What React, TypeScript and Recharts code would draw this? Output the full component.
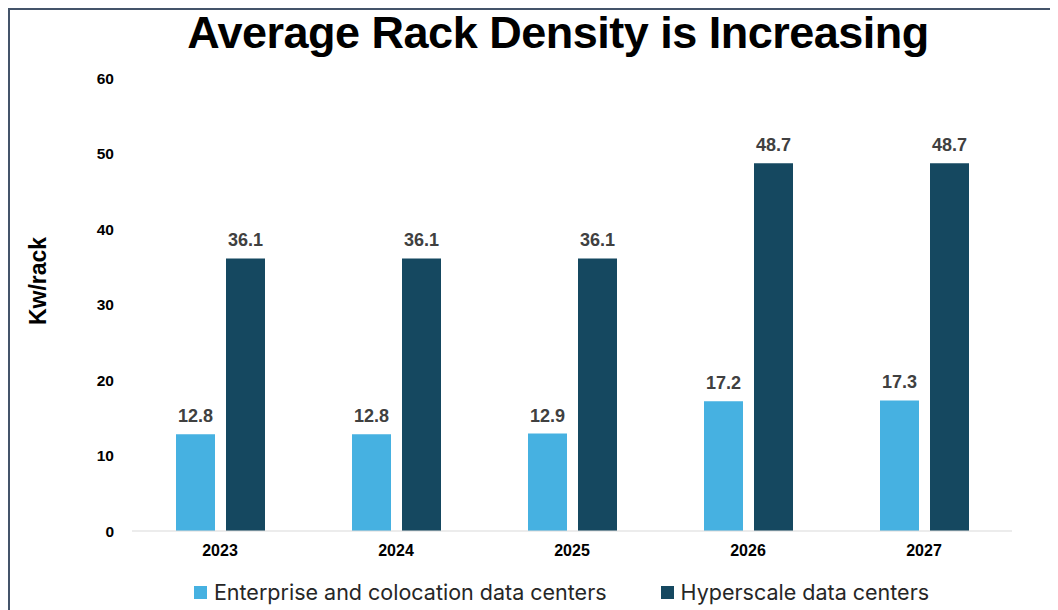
import React from "react";
import { BarChart, Bar, XAxis, YAxis, LabelList, Legend } from "recharts";

const years = ["2023", "2024", "2025", "2026", "2027"];
const enterprise = [12.8, 12.8, 12.9, 17.2, 17.3];
const hyperscale = [36.1, 36.1, 36.1, 48.7, 48.7];
const yTicks = [0, 10, 20, 30, 40, 50, 60];

const LIGHT = "#46B1E1";
const DARK = "#154860";
const FONT = "'Liberation Sans', Arial, sans-serif";

const data = years.map((year, i) => ({
  year,
  enterprise: enterprise[i],
  hyperscale: hyperscale[i],
}));

const legendItems = [
  { name: "Enterprise and colocation data centers", color: LIGHT },
  { name: "Hyperscale data centers", color: DARK },
];

const LegendContent = () => (
  <div
    style={{
      display: "flex",
      justifyContent: "center",
      gap: 54,
      paddingLeft: 101,
      fontFamily: "Inter, sans-serif",
      fontSize: 21.5,
      color: "#262626",
    }}
  >
    {legendItems.map((item) => (
      <div key={item.name} style={{ display: "flex", alignItems: "center" }}>
        <span
          style={{
            display: "inline-block",
            width: 13,
            height: 13,
            background: item.color,
            marginRight: 7,
          }}
        />
        {item.name}
      </div>
    ))}
  </div>
);

export default function App() {
  return (
    <div
      style={{
        position: "relative",
        width: 1050,
        height: 602,
        borderLeft: "2px solid #44546A",
        borderTop: "2px solid #44546A",
        boxSizing: "border-box",
        overflow: "hidden",
        background: "#fff",
      }}
    >
      <div
        style={{
          position: "absolute",
          top: -2,
          left: 0,
          width: 1096,
          textAlign: "center",
          fontFamily: FONT,
          fontWeight: 700,
          fontSize: 45,
          lineHeight: "50px",
          color: "#000",
          letterSpacing: -0.5,
        }}
      >
        Average Rack Density is Increasing
      </div>
      <div
        style={{
          position: "absolute",
          left: 28,
          top: 271,
          transform: "translate(-50%, -50%) rotate(-90deg)",
          fontFamily: FONT,
          fontWeight: 700,
          fontSize: 23,
          whiteSpace: "nowrap",
          color: "#000",
        }}
      >
        Kw/rack
      </div>
      <BarChart
        width={1048}
        height={600}
        data={data}
        margin={{ top: 68, right: 46, bottom: 0, left: 0 }}
        barSize={39}
        barGap={11}
      >
        <XAxis
          dataKey="year"
          axisLine={{ stroke: "#D9D9D9" }}
          tickLine={false}
          tickSize={0}
          tickMargin={14}
          height={48}
          tick={{ fontFamily: FONT, fontWeight: 700, fontSize: 16, fill: "#000" }}
        />
        <YAxis
          width={122}
          domain={[0, 60]}
          ticks={yTicks}
          axisLine={false}
          tickLine={false}
          tickSize={0}
          tickMargin={18}
          tick={{ fontFamily: FONT, fontWeight: 700, fontSize: 15.5, fill: "#000" }}
        />
        <Legend
          verticalAlign="bottom"
          height={31}
          content={<LegendContent />}
        />
        <Bar dataKey="enterprise" fill={LIGHT} isAnimationActive={false}>
          <LabelList
            dataKey="enterprise"
            position="top"
            offset={12}
            style={{ fontFamily: FONT, fontWeight: 700, fontSize: 18, fill: "#404040" }}
          />
        </Bar>
        <Bar dataKey="hyperscale" fill={DARK} isAnimationActive={false}>
          <LabelList
            dataKey="hyperscale"
            position="top"
            offset={12}
            style={{ fontFamily: FONT, fontWeight: 700, fontSize: 18, fill: "#404040" }}
          />
        </Bar>
      </BarChart>
    </div>
  );
}
